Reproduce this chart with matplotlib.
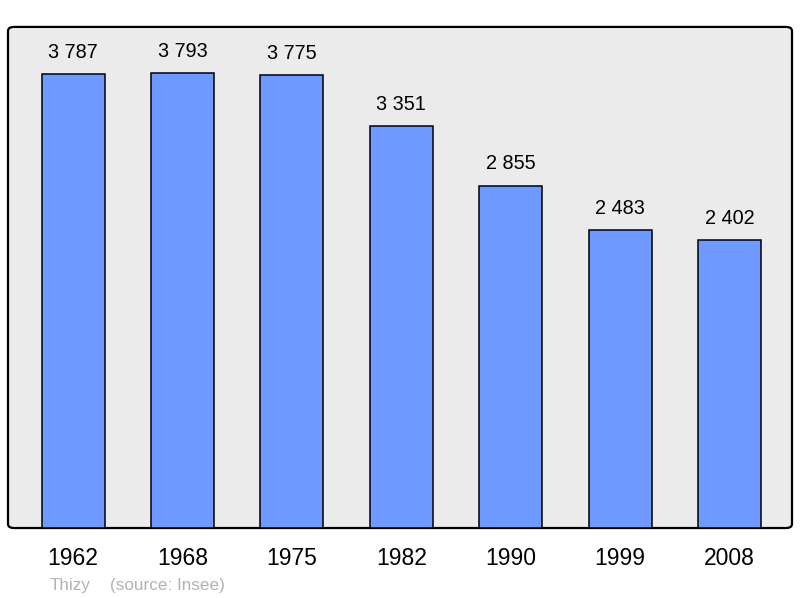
import matplotlib.pyplot as plt
from matplotlib.patches import FancyBboxPatch

plt.rcParams["font.family"] = ["Liberation Sans", "DejaVu Sans"]

YEARS = ["1962", "1968", "1975", "1982", "1990", "1999", "2008"]
POPULATION = [3787, 3793, 3775, 3351, 2855, 2483, 2402]
LABELS = ["3 787", "3 793", "3 775", "3 351", "2 855", "2 483", "2 402"]


def main():
    fig = plt.figure(figsize=(8, 5.98), dpi=100)
    ax = fig.add_axes([0.01, 0.117, 0.98, 0.838])
    ax.set_facecolor("none")

    frame = FancyBboxPatch(
        (0, 0), 1, 1,
        boxstyle="round,pad=0,rounding_size=0.008",
        transform=ax.transAxes,
        facecolor="#EBEBEB",
        edgecolor="black",
        linewidth=1.6,
        zorder=0,
        clip_on=False,
    )
    ax.add_patch(frame)

    positions = range(len(YEARS))
    bars = ax.bar(
        positions,
        POPULATION,
        width=0.576,
        color="#7099FF",
        edgecolor="black",
        linewidth=1.1,
        zorder=2,
    )

    for bar, label in zip(bars, LABELS):
        ax.annotate(
            label,
            (bar.get_x() + bar.get_width() / 2, bar.get_height()),
            xytext=(0, 9),
            textcoords="offset points",
            ha="center",
            va="bottom",
            fontsize=14.3,
        )

    ax.set_xlim(-0.595, 6.571)
    ax.set_ylim(0, 4180)
    ax.set_xticks(list(positions))
    ax.set_xticklabels(YEARS, fontsize=16.5)
    ax.set_yticks([])
    ax.tick_params(axis="x", length=0, pad=14)
    for spine in ax.spines.values():
        spine.set_visible(False)

    fig.text(0.062, 0.013, "Thizy", color="#B3B3B3", fontsize=12.3)
    fig.text(0.137, 0.013, "(source: Insee)", color="#B3B3B3", fontsize=12.3)

    fig.savefig("out.png", dpi=100)
    plt.close(fig)


if __name__ == "__main__":
    main()
